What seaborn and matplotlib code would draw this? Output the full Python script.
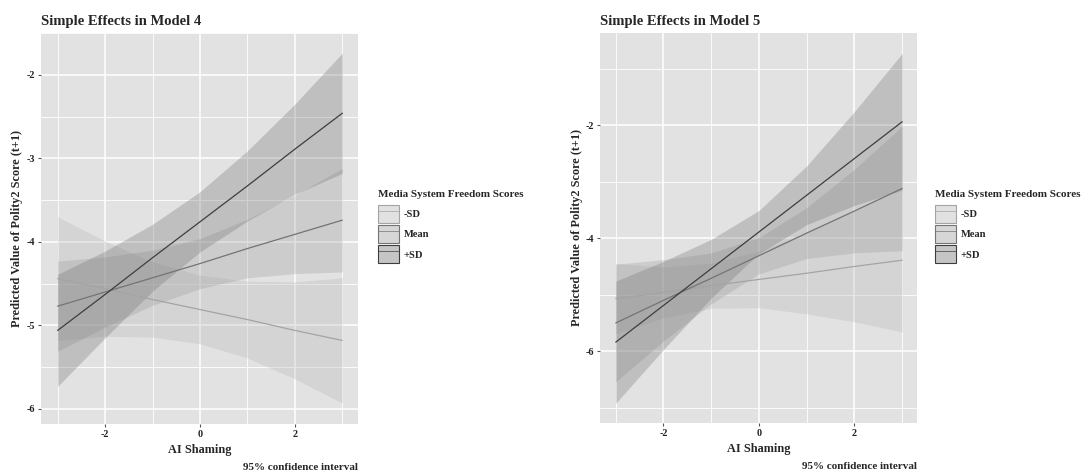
import numpy as np
import pandas as pd
import matplotlib
matplotlib.use("Agg")
import matplotlib.pyplot as plt
import seaborn as sns
from matplotlib.patches import Patch
from matplotlib.lines import Line2D

# ---------------- data ----------------
x_vals = [-3, -2, -1, 0, 1, 2, 3]
levels = ["-SD", "Mean", "+SD"]

# Model 4
m4_fit_lo = [-4.44, -4.56, -4.69, -4.81, -4.93, -5.06, -5.18]
m4_lwr_lo = [-5.18, -5.13, -5.14, -5.22, -5.39, -5.64, -5.93]
m4_upr_lo = [-3.70, -3.99, -4.24, -4.40, -4.47, -4.48, -4.43]
m4_fit_mean = [-4.77, -4.60, -4.43, -4.26, -4.08, -3.91, -3.74]
m4_lwr_mean = [-5.31, -5.02, -4.76, -4.56, -4.43, -4.38, -4.36]
m4_upr_mean = [-4.23, -4.18, -4.10, -3.96, -3.73, -3.44, -3.12]
m4_fit_hi = [-5.06, -4.63, -4.19, -3.76, -3.33, -2.89, -2.46]
m4_lwr_hi = [-5.73, -5.15, -4.59, -4.12, -3.75, -3.43, -3.18]
m4_upr_hi = [-4.39, -4.11, -3.79, -3.40, -2.91, -2.35, -1.74]

# Model 5
m5_fit_lo = [-5.07, -4.96, -4.84, -4.73, -4.62, -4.50, -4.39]
m5_lwr_lo = [-5.69, -5.41, -5.24, -5.23, -5.34, -5.48, -5.66]
m5_upr_lo = [-4.45, -4.51, -4.44, -4.23, -3.90, -3.52, -3.12]
m5_fit_mean = [-5.50, -5.10, -4.71, -4.31, -3.91, -3.52, -3.12]
m5_lwr_mean = [-6.54, -5.82, -5.16, -4.63, -4.36, -4.26, -4.22]
m5_upr_mean = [-4.46, -4.38, -4.26, -3.99, -3.46, -2.78, -2.02]
m5_fit_hi = [-5.84, -5.19, -4.54, -3.89, -3.24, -2.59, -1.94]
m5_lwr_hi = [-6.92, -5.97, -5.06, -4.27, -3.76, -3.42, -3.15]
m5_upr_hi = [-4.76, -4.41, -4.02, -3.51, -2.72, -1.76, -0.73]

m4_yticks = [-6, -5, -4, -3, -2]
m5_yticks = [-6, -4, -2]
x_ticks = [-2, 0, 2]

titles = ["Simple Effects in Model 4", "Simple Effects in Model 5"]
x_label = "AI Shaming"
y_label = "Predicted Value of Polity2 Score (t+1)"
legend_title = "Media System Freedom Scores"
caption = "95% confidence interval"

# ---------------- style ----------------
sns.set_theme(style="darkgrid")
plt.rcParams['font.family'] = ['Liberation Serif', 'DejaVu Serif']
plt.rcParams['font.weight'] = 'bold'
plt.rcParams['axes.unicode_minus'] = False

BG = "#E2E2E2"
fill_colors = {"-SD": "#B4B4B4", "Mean": "#9A9A9A", "+SD": "#707070"}
line_colors = {"-SD": "#A4A4A4", "Mean": "#747474", "+SD": "#3E3E3E"}
ALPHA = 0.3

W, H = 1088, 474
fig = plt.figure(figsize=(W / 100, H / 100), dpi=100)
fig.patch.set_facecolor("white")


def px_axes(l, t, r, b):
    return fig.add_axes([l / W, 1 - b / H, (r - l) / W, (b - t) / H])


def panel(ax, fits, lwrs, uprs, xlim, ylim, yticks, yminor, title, legend_x, ylab_x):
    ax.set_facecolor(BG)
    for lev, lo, hi in zip(levels, lwrs, uprs):
        ax.fill_between(x_vals, lo, hi, color=fill_colors[lev], alpha=ALPHA,
                        linewidth=0, zorder=2)
    df = pd.DataFrame({
        "x": x_vals * 3,
        "y": fits[0] + fits[1] + fits[2],
        "level": [lv for lv in levels for _ in x_vals],
    })
    sns.lineplot(data=df, x="x", y="y", hue="level", hue_order=levels,
                 palette=line_colors, ax=ax, legend=False, linewidth=0.9, zorder=3)
    ax.set_xlim(*xlim)
    ax.set_ylim(*ylim)
    ax.set_xticks(x_ticks)
    ax.set_xticks([-3, -1, 1, 3], minor=True)
    ax.set_yticks(yticks)
    ax.set_yticks(yminor, minor=True)
    ax.set_xticklabels([str(v) for v in x_ticks])
    ax.set_yticklabels([str(v) for v in yticks])
    ax.grid(which="major", color="white", linewidth=1.1)
    ax.grid(which="minor", color="white", linewidth=0.6)
    ax.set_axisbelow(True)
    for s in ax.spines.values():
        s.set_visible(False)
    ax.tick_params(which="major", length=2.5, width=0.8, color="#555555",
                   pad=1.5, labelsize=7.3, labelcolor="#222222")
    ax.tick_params(which="minor", length=0)
    ax.tick_params(axis="x", bottom=True)
    ax.tick_params(axis="y", left=True)
    ax.set_title(title, loc="left", fontsize=10.5, fontweight="bold", pad=6)
    ax.set_xlabel(x_label, fontsize=8.8, fontweight="bold")
    ax.set_ylabel(y_label, fontsize=8.8, fontweight="bold")
    ax.xaxis.set_label_coords(0.5, -0.052)
    ax.yaxis.set_label_coords(ylab_x, 0.5)
    ax.text(1.0, -0.112, caption, transform=ax.transAxes, ha="right", va="center",
            fontsize=8, fontweight="bold")

    handles = []
    for lev in levels:
        p = Patch(facecolor=matplotlib.colors.to_rgba(fill_colors[lev], ALPHA + 0.1),
                  edgecolor=line_colors[lev], linewidth=0.8)
        ln = Line2D([], [], color=line_colors[lev], linewidth=0.5)
        handles.append((p, ln))
    leg = ax.legend(handles, levels, title=legend_title, loc="upper left",
                    bbox_to_anchor=(legend_x / W, 1 - 190 / H),
                    bbox_transform=fig.transFigure, frameon=False,
                    fontsize=7.6, title_fontsize=8.0, handlelength=1.95,
                    handleheight=2.25, labelspacing=0.22, handletextpad=0.5,
                    borderpad=0, borderaxespad=0)
    leg._legend_box.align = "left"
    leg._legend_box.sep = 4
    for t in leg.get_texts():
        t.set_fontweight("bold")
    leg.get_title().set_fontweight("bold")


ax1 = px_axes(41, 33, 358, 424)
panel(ax1, [m4_fit_lo, m4_fit_mean, m4_fit_hi],
      [m4_lwr_lo, m4_lwr_mean, m4_lwr_hi],
      [m4_upr_lo, m4_upr_mean, m4_upr_hi],
      (-3.35, 3.33), (-6.18, -1.50), m4_yticks, [-5.5, -4.5, -3.5, -2.5, -1.5],
      titles[0], 378, -0.057)

ax2 = px_axes(600, 33, 917, 423)
panel(ax2, [m5_fit_lo, m5_fit_mean, m5_fit_hi],
      [m5_lwr_lo, m5_lwr_mean, m5_lwr_hi],
      [m5_upr_lo, m5_upr_mean, m5_upr_hi],
      (-3.33, 3.31), (-7.27, -0.37), m5_yticks, [-7, -5, -3, -1],
      titles[1], 935, -0.054)

fig.savefig("out.png", dpi=100, facecolor="white")
